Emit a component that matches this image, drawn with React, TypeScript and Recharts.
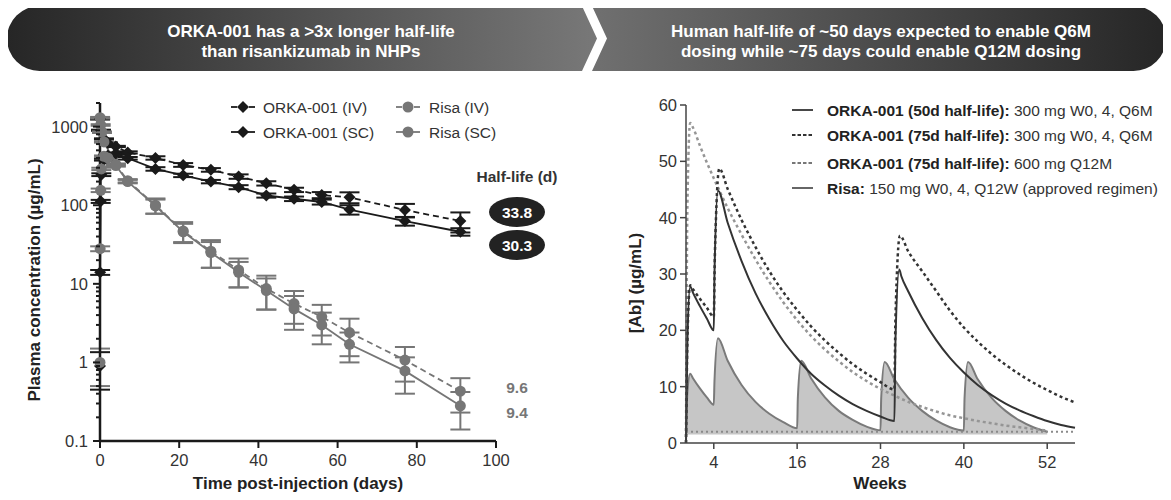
import React from "react";
import {
  ComposedChart,
  Line,
  Area,
  XAxis,
  YAxis,
  ErrorBar,
  ReferenceLine,
} from "recharts";

// ---- left panel: NHP plasma concentration (log scale) ----
const orkaIvDay = [0.02, 0.25, 1, 2, 4, 7, 14, 21, 28, 35, 42, 49, 56, 63, 77, 91];
const orkaIvConc = [1250, 900, 700, 620, 560, 470, 400, 326, 282, 232, 190, 157, 135, 126, 87, 63];
const orkaIvSd = [20, 15, 10, 10, 10, 15, 20, 18, 15, 15, 12, 10, 12, 20, 17, 18];

const orkaScDay = [0, 0.04, 0.17, 0.33, 1, 2, 4, 7, 14, 21, 28, 35, 42, 49, 56, 63, 77, 91];
const orkaScConc = [0.9, 14, 112, 245, 380, 430, 455, 396, 290, 240, 200, 170, 133, 121, 110, 88, 63, 46];
const orkaScSd = [0.45, 1, 5, 10, 10, 10, 15, 15, 15, 12, 10, 10, 8, 8, 8, 12, 8, 5];

const risaIvDay = [0.02, 0.17, 0.5, 1, 4, 7, 14, 21, 28, 35, 42, 49, 56, 63, 77, 91];
const risaIvConc = [1300, 1050, 850, 640, 330, 205, 100, 47, 26, 15, 8.7, 5.6, 3.8, 2.4, 1.07, 0.43];
const risaIvSd = [30, 25, 20, 15, 10, 10, 22, 14, 10, 6, 4, 2.5, 1.6, 1.2, 0.5, 0.2];

const risaScDay = [0, 0.04, 0.17, 0.33, 1, 2, 4, 7, 14, 21, 28, 35, 42, 49, 56, 63, 77, 91];
const risaScConc = [1.0, 28, 155, 290, 420, 400, 320, 200, 98, 46, 25, 14, 8.2, 4.8, 3.0, 1.7, 0.78, 0.28];
const risaScSd = [0.5, 2, 8, 10, 10, 10, 10, 10, 20, 12, 9, 5, 3.5, 2.2, 1.3, 0.7, 0.38, 0.14];

const dayTicks = [0, 20, 40, 60, 80, 100];
const majorLog = [0.1, 1, 10, 100, 1000];

// ---- right panel: simulated human PK ----
const orka50Week = [0, 0.2, 0.6, 1, 2, 3, 4, 4.1, 4.6, 6, 8, 10, 12, 14, 16, 18, 20, 22, 24, 26, 28, 30, 30.15, 30.7, 31, 32, 34, 36, 38, 40, 42, 44, 46, 48, 50, 52, 54, 56];
const orka50Conc = [0, 18, 27.8, 26.7, 24.3, 22.1, 20.0, 30, 44.8, 39.1, 32.3, 26.6, 22.0, 18.1, 15.0, 12.3, 10.2, 8.4, 6.9, 5.7, 4.7, 3.9, 18, 30.8, 29.6, 26.9, 22.2, 18.3, 15.1, 12.5, 10.3, 8.5, 7.0, 5.8, 4.8, 3.9, 3.2, 2.7];

const orka75Week = [0, 0.2, 0.6, 1, 2, 3, 4, 4.15, 4.8, 6, 8, 10, 12, 14, 16, 18, 20, 22, 24, 26, 28, 30, 30.15, 30.8, 32, 34, 36, 38, 40, 42, 44, 46, 48, 50, 52, 54, 56];
const orka75Conc = [0, 18, 28, 27.3, 25.6, 24.0, 22.4, 33, 48.7, 45.1, 39.6, 34.8, 30.5, 26.8, 23.6, 20.7, 18.2, 16.0, 14.0, 12.3, 10.8, 9.5, 22, 36.8, 34, 30.5, 27, 23.5, 20.5, 18, 15.8, 13.9, 12.2, 10.7, 9.4, 8.2, 7.2];

const orka600Week = [0, 0.2, 0.6, 1, 2, 3, 4, 5, 6, 8, 10, 12, 14, 16, 18, 20, 22, 24, 26, 28, 30, 32, 34, 36, 38, 40, 42, 44, 46, 48, 50, 52];
const orka600Conc = [0, 42, 56.8, 56, 52.8, 49.8, 47, 44.3, 41.7, 37, 32.6, 28.6, 25, 21.8, 19, 16.6, 14.5, 12.6, 11, 9.6, 8.4, 7.3, 6.4, 5.6, 4.9, 4.4, 3.9, 3.5, 3.1, 2.8, 2.5, 2.2];

const risaWeek = [0, 0.2, 0.6, 1, 2, 3, 4, 4.1, 4.6, 6, 8, 10, 12, 14, 16, 16.1, 16.6, 18, 20, 22, 24, 26, 28, 28.1, 28.6, 30, 32, 34, 36, 38, 40, 40.1, 40.6, 42, 44, 46, 48, 50, 52];
const risaConc = [1.5, 9, 12.3, 11.5, 9.7, 8.1, 6.8, 11, 18.6, 14.6, 10.3, 7.3, 5.2, 3.7, 2.6, 8, 14.6, 11.5, 8.1, 5.7, 4.1, 2.9, 2.25, 8, 14.4, 11.3, 8.0, 5.7, 4.0, 2.8, 2.2, 8, 14.4, 11.3, 8.0, 5.7, 4.0, 2.8, 2.0];

const weekTicks = [4, 16, 28, 40, 52];
const abTicks = [0, 10, 20, 30, 40, 50, 60];
const lloq = 2;

const zipPk = (d: number[], c: number[], s: number[]) =>
  d.map((day, i) => ({ day, v: c[i], sd: s[i] }));
const zipSim = (w: number[], c: number[]) => w.map((wk, i) => ({ w: wk, v: c[i] }));

const orkaIvData = zipPk(orkaIvDay, orkaIvConc, orkaIvSd);
const orkaScData = zipPk(orkaScDay, orkaScConc, orkaScSd);
const risaIvData = zipPk(risaIvDay, risaIvConc, risaIvSd);
const risaScData = zipPk(risaScDay, risaScConc, risaScSd);

const orka50Data = zipSim(orka50Week, orka50Conc);
const orka75Data = zipSim(orka75Week, orka75Conc);
const orka600Data = zipSim(orka600Week, orka600Conc);
const risaData = zipSim(risaWeek, risaConc);

const logTicks = majorLog
  .flatMap((d) => [1, 2, 3, 4, 5, 6, 7, 8, 9].map((m) => m * d))
  .filter((v) => v <= 2000);

const BLACK = "#1a1a1a";
const GREY = "#767676";
const FONT = "'Liberation Sans', Arial, Helvetica, sans-serif";

const LogTick = (props: any) => {
  const { x, y, payload } = props;
  const v = payload.value;
  const major = majorLog.some((m) => Math.abs(m - v) < 1e-9);
  return (
    <g>
      <line x1={x - (major ? 7 : 4)} x2={x} y1={y} y2={y} stroke={BLACK} strokeWidth={2} />
      {major && (
        <text x={x - 12} y={y + 6} textAnchor="end" fontSize={16.5} fill="#333">
          {String(v)}
        </text>
      )}
    </g>
  );
};

const diamond = (fill: string) => (p: any) => {
  if (p.cx == null || p.cy == null) return <g key={`dn-${p.index}`} />;
  const s = 6;
  return (
    <path
      key={`d-${p.index}`}
      d={`M${p.cx},${p.cy - s} L${p.cx + s},${p.cy} L${p.cx},${p.cy + s} L${p.cx - s},${p.cy} Z`}
      fill={fill}
    />
  );
};

const circle = (fill: string) => (p: any) => {
  if (p.cx == null || p.cy == null) return <g key={`cn-${p.index}`} />;
  return <circle key={`c-${p.index}`} cx={p.cx} cy={p.cy} r={5.5} fill={fill} />;
};

const LeftChart = () => (
  <ComposedChart
    width={600}
    height={420}
    margin={{ top: 23, right: 104, bottom: 29, left: 40 }}
  >
    <XAxis
      type="number"
      dataKey="day"
      domain={[0, 100]}
      ticks={dayTicks}
      height={30}
      tickSize={7}
      tickMargin={6}
      axisLine={{ stroke: BLACK, strokeWidth: 2.5 }}
      tickLine={{ stroke: BLACK, strokeWidth: 2 }}
      tick={{ fontSize: 16.5, fill: "#333" }}
    />
    <YAxis
      type="number"
      scale="log"
      domain={[0.1, 2000]}
      allowDataOverflow
      ticks={logTicks}
      interval={0}
      width={60}
      tickSize={0}
      tickMargin={0}
      tickLine={false}
      tick={<LogTick />}
      axisLine={{ stroke: BLACK, strokeWidth: 2.5 }}
    />
    <Line
      data={orkaIvData}
      dataKey="v"
      type="linear"
      stroke={BLACK}
      strokeWidth={1.8}
      strokeDasharray="6 4"
      dot={diamond(BLACK)}
      isAnimationActive={false}
    >
      <ErrorBar dataKey="sd" direction="y" width={10} stroke={BLACK} strokeWidth={2} />
    </Line>
    <Line
      data={orkaScData}
      dataKey="v"
      type="linear"
      stroke={BLACK}
      strokeWidth={1.8}
      dot={diamond(BLACK)}
      isAnimationActive={false}
    >
      <ErrorBar dataKey="sd" direction="y" width={10} stroke={BLACK} strokeWidth={2} />
    </Line>
    <Line
      data={risaIvData}
      dataKey="v"
      type="linear"
      stroke={GREY}
      strokeWidth={1.8}
      strokeDasharray="6 4"
      dot={circle(GREY)}
      isAnimationActive={false}
    >
      <ErrorBar dataKey="sd" direction="y" width={10} stroke={GREY} strokeWidth={2} />
    </Line>
    <Line
      data={risaScData}
      dataKey="v"
      type="linear"
      stroke={GREY}
      strokeWidth={1.8}
      dot={circle(GREY)}
      isAnimationActive={false}
    >
      <ErrorBar dataKey="sd" direction="y" width={10} stroke={GREY} strokeWidth={2} />
    </Line>
  </ComposedChart>
);

const RightChart = () => (
  <ComposedChart
    width={500}
    height={420}
    margin={{ top: 25, right: 25, bottom: 27, left: 46 }}
  >
    <XAxis
      type="number"
      dataKey="w"
      domain={[0, 56]}
      ticks={weekTicks}
      height={30}
      tickSize={6}
      tickMargin={7}
      axisLine={{ stroke: "#444", strokeWidth: 1.5 }}
      tickLine={{ stroke: "#444", strokeWidth: 1.5 }}
      tick={{ fontSize: 16.5, fill: "#333" }}
    />
    <YAxis
      type="number"
      domain={[0, 60]}
      ticks={abTicks}
      interval={0}
      width={40}
      tickSize={6}
      tickMargin={3}
      axisLine={{ stroke: "#444", strokeWidth: 1.5 }}
      tickLine={{ stroke: "#444", strokeWidth: 1.5 }}
      tick={{ fontSize: 16.5, fill: "#333" }}
    />
    <Area
      data={risaData}
      dataKey="v"
      type="monotone"
      baseValue={1.5}
      fill="#c6c6c6"
      fillOpacity={1}
      stroke="#7a7a7a"
      strokeWidth={2}
      isAnimationActive={false}
    />
    <ReferenceLine y={lloq} stroke="#8a8a8a" strokeWidth={2} strokeDasharray="2 3" />
    <Line
      data={orka600Data}
      dataKey="v"
      type="monotone"
      stroke="#959595"
      strokeWidth={2.5}
      strokeDasharray="3 3"
      dot={false}
      isAnimationActive={false}
    />
    <Line
      data={orka75Data}
      dataKey="v"
      type="monotone"
      stroke="#333"
      strokeWidth={2.5}
      strokeDasharray="3 3"
      dot={false}
      isAnimationActive={false}
    />
    <Line
      data={orka50Data}
      dataKey="v"
      type="monotone"
      stroke="#333"
      strokeWidth={2}
      dot={false}
      isAnimationActive={false}
    />
  </ComposedChart>
);

const Overlay = () => (
  <svg
    width={1171}
    height={500}
    style={{ position: "absolute", left: 0, top: 0, pointerEvents: "none" }}
  >
    <defs>
      <linearGradient id="gL" x1="7" x2="597" y1="0" y2="0" gradientUnits="userSpaceOnUse">
        <stop offset="0" stopColor="#262626" />
        <stop offset="1" stopColor="#787878" />
      </linearGradient>
      <linearGradient id="gR" x1="592" x2="1166" y1="0" y2="0" gradientUnits="userSpaceOnUse">
        <stop offset="0" stopColor="#707070" />
        <stop offset="1" stopColor="#262626" />
      </linearGradient>
    </defs>
    {/* header banners */}
    <path d="M39.5,6 H582 L597,38.5 L582,71 H39.5 A32.5,32.5 0 0 1 39.5,6 Z" fill="url(#gL)" />
    <path d="M592,6 H1133.5 A32.5,32.5 0 0 1 1133.5,71 H592 L607,38.5 Z" fill="url(#gR)" />
    <g fill="#fff" fontWeight="bold" fontSize={17} textAnchor="middle">
      <text x={311} y={37}>ORKA-001 has a &gt;3x longer half-life</text>
      <text x={311} y={57}>than risankizumab in NHPs</text>
      <text x={881} y={37}>Human half-life of ~50 days expected to enable Q6M</text>
      <text x={881} y={57}>dosing while ~75 days could enable Q12M dosing</text>
    </g>

    {/* left axis titles */}
    <text
      x={0}
      y={0}
      transform="translate(40,280) rotate(-90)"
      textAnchor="middle"
      fontWeight="bold"
      fontSize={17}
      fill="#222"
    >
      Plasma concentration (µg/mL)
    </text>
    <text x={298} y={489} textAnchor="middle" fontWeight="bold" fontSize={17} fill="#222">
      Time post-injection (days)
    </text>

    {/* left legend */}
    <g stroke={BLACK} strokeWidth={1.8}>
      <line x1={231} x2={237} y1={107} y2={107} />
      <line x1={249} x2={255} y1={107} y2={107} />
      <line x1={231} x2={255} y1={132} y2={132} />
    </g>
    <path d="M243,101 L249,107 L243,113 L237,107 Z" fill={BLACK} />
    <path d="M243,126 L249,132 L243,138 L237,132 Z" fill={BLACK} />
    <g stroke={GREY} strokeWidth={1.8}>
      <line x1={396} x2={402} y1={107} y2={107} />
      <line x1={414} x2={420} y1={107} y2={107} />
      <line x1={396} x2={420} y1={132} y2={132} />
    </g>
    <circle cx={408} cy={107} r={5.5} fill={GREY} />
    <circle cx={408} cy={132} r={5.5} fill={GREY} />
    <g fontSize={15.5} fill="#333">
      <text x={263} y={113}>ORKA-001 (IV)</text>
      <text x={263} y={138}>ORKA-001 (SC)</text>
      <text x={429} y={113}>Risa (IV)</text>
      <text x={429} y={138}>Risa (SC)</text>
    </g>

    {/* half-life annotations */}
    <text x={517} y={182} textAnchor="middle" fontWeight="bold" fontSize={15.5} fill="#333">
      Half-life (d)
    </text>
    <ellipse cx={517} cy={212} rx={28} ry={15} fill="#222" />
    <ellipse cx={517} cy={245} rx={28} ry={15} fill="#222" />
    <g textAnchor="middle" fontWeight="bold" fontSize={15.5}>
      <text x={517} y={217.5} fill="#fff">33.8</text>
      <text x={517} y={250.5} fill="#fff">30.3</text>
      <text x={517} y={393} fill={GREY}>9.6</text>
      <text x={517} y={418} fill={GREY}>9.4</text>
    </g>

    {/* right axis titles */}
    <text
      x={0}
      y={0}
      transform="translate(641,283) rotate(-90)"
      textAnchor="middle"
      fontWeight="bold"
      fontSize={17}
      fill="#222"
    >
      [Ab] (µg/mL)
    </text>
    <text x={880} y={489} textAnchor="middle" fontWeight="bold" fontSize={17} fill="#222">
      Weeks
    </text>

    {/* right legend */}
    <line x1={792} x2={813} y1={110} y2={110} stroke="#333" strokeWidth={1.8} />
    <line x1={792} x2={813} y1={135} y2={135} stroke="#333" strokeWidth={1.8} strokeDasharray="3.5 2" />
    <line x1={792} x2={813} y1={163} y2={163} stroke="#777" strokeWidth={1.8} strokeDasharray="3.5 2" />
    <line x1={792} x2={813} y1={188} y2={188} stroke="#555" strokeWidth={1.8} />
    <g fontSize={15.5} fill="#333">
      <text x={827} y={116}>
        <tspan fontWeight="bold" fill="#222">ORKA-001 (50d half-life):</tspan> 300 mg W0, 4, Q6M
      </text>
      <text x={827} y={141}>
        <tspan fontWeight="bold" fill="#222">ORKA-001 (75d half-life):</tspan> 300 mg W0, 4, Q6M
      </text>
      <text x={827} y={169}>
        <tspan fontWeight="bold" fill="#222">ORKA-001 (75d half-life):</tspan> 600 mg Q12M
      </text>
      <text x={827} y={194}>
        <tspan fontWeight="bold" fill="#222">Risa:</tspan> 150 mg W0, 4, Q12W (approved regimen)
      </text>
    </g>
  </svg>
);

export default function App() {
  return (
    <div
      style={{
        position: "relative",
        width: 1171,
        height: 500,
        margin: -8,
        fontFamily: FONT,
        background: "#fff",
        overflow: "hidden",
      }}
    >
      <div style={{ position: "absolute", left: 0, top: 80 }}>
        <LeftChart />
      </div>
      <div style={{ position: "absolute", left: 600, top: 80 }}>
        <RightChart />
      </div>
      <Overlay />
    </div>
  );
}
